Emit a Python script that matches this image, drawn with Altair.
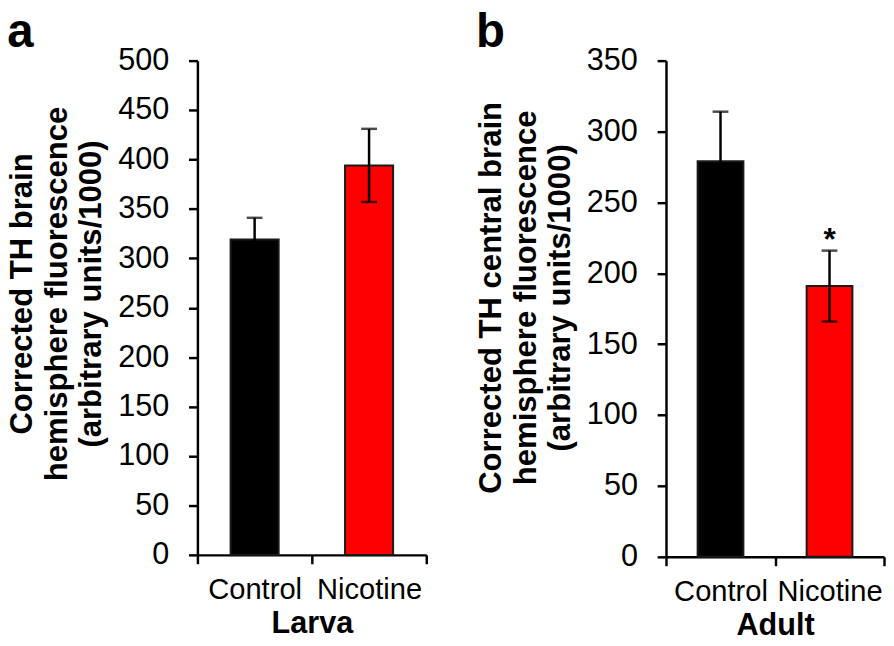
import altair as alt
import pandas as pd

groups = ["Control", "Nicotine"]
bar_colors = ["#000000", "#ff0000"]

larva_mean = [319, 394]
larva_err = [22, 37]
larva_sig = ["", ""]

adult_mean = [279, 191]
adult_err = [35, 25]
adult_sig = ["", "*"]

larva_ticks = [0, 50, 100, 150, 200, 250, 300, 350, 400, 450, 500]
adult_ticks = [0, 50, 100, 150, 200, 250, 300, 350]

larva_ytitle = ["Corrected TH brain", "hemisphere fluorescence", "(arbitrary units/1000)"]
adult_ytitle = ["Corrected TH central brain", "hemisphere fluorescence", "(arbitrary units/1000)"]

FONT = "Liberation Sans"


def panel(mean, err, sig, ticks, ytitle, xtitle, letter, w, h, title_y):
    df = pd.DataFrame({
        "group": groups,
        "mean": mean,
        "lo": [m - e for m, e in zip(mean, err)],
        "hi": [m + e for m, e in zip(mean, err)],
        "sig": sig,
    })
    xaxis = alt.Axis(
        title=xtitle, labelAngle=0, tickBand="extent",
        labelFont=FONT, labelFontSize=29.5, labelColor="black", labelPadding=12,
        titleFont=FONT, titleFontSize=31, titleFontWeight="bold", titleColor="black",
        titlePadding=5,
        domainColor="black", domainWidth=2.5, tickColor="black", tickWidth=2.5, tickSize=9,
    )
    yaxis = alt.Axis(
        title=ytitle, values=ticks, grid=False,
        labelFont=FONT, labelFontSize=31, labelColor="black", labelPadding=20,
        titleFont=FONT, titleFontSize=31.5, titleFontWeight="bold", titleColor="black",
        titlePadding=10, titleLineHeight=35, titleY=title_y,
        domainColor="black", domainWidth=2.5, tickColor="black", tickWidth=2.5, tickSize=9,
    )
    xs = alt.Scale(paddingInner=0, paddingOuter=0)
    ys = alt.Scale(domain=[ticks[0], ticks[-1]], nice=False)
    X = alt.X("group:N", sort=groups, scale=xs, axis=xaxis)

    base = alt.Chart(df)
    bars = base.mark_bar(width=alt.RelativeBandSize(0.42), stroke="#1a1a1a", strokeWidth=2).encode(
        x=X,
        y=alt.Y("mean:Q", scale=ys, axis=yaxis),
        color=alt.Color("group:N", scale=alt.Scale(domain=groups, range=bar_colors), legend=None),
    )
    rule = base.mark_rule(color="black", strokeWidth=2.5).encode(
        x=X, y=alt.Y("lo:Q", scale=ys, axis=yaxis), y2="hi:Q"
    )
    cap_hi = base.mark_tick(color="black", size=16, thickness=2.5).encode(
        x=X, y=alt.Y("hi:Q", scale=ys, axis=yaxis)
    )
    cap_lo = base.mark_tick(color="black", size=16, thickness=2.5).encode(
        x=X, y=alt.Y("lo:Q", scale=ys, axis=yaxis)
    )
    star = base.mark_text(font=FONT, fontSize=32, fontWeight="bold", color="black",
                          baseline="alphabetic", dy=-1).encode(
        x=X, y=alt.Y("hi:Q", scale=ys, axis=yaxis), text="sig:N"
    )
    return alt.layer(bars, rule, cap_hi, cap_lo, star).properties(
        width=w, height=h,
        title=alt.TitleParams(letter, anchor="start", frame="bounds", font=FONT,
                              fontSize=48, fontWeight="bold", color="black", offset=-12),
    )


pa = panel(larva_mean, larva_err, larva_sig, larva_ticks, larva_ytitle, "Larva", "a", 232, 501, 236)
pb = panel(adult_mean, adult_err, adult_sig, adult_ticks, adult_ytitle, "Adult", "b", 221, 503, 240)

chart = alt.hconcat(pa, pb, spacing=48).resolve_scale(y="independent").properties(
    padding={"left": -1, "top": -3, "right": 0, "bottom": 0}
).configure_view(stroke=None)

chart.save("out.html", embed_options={"renderer": "svg", "actions": False})
